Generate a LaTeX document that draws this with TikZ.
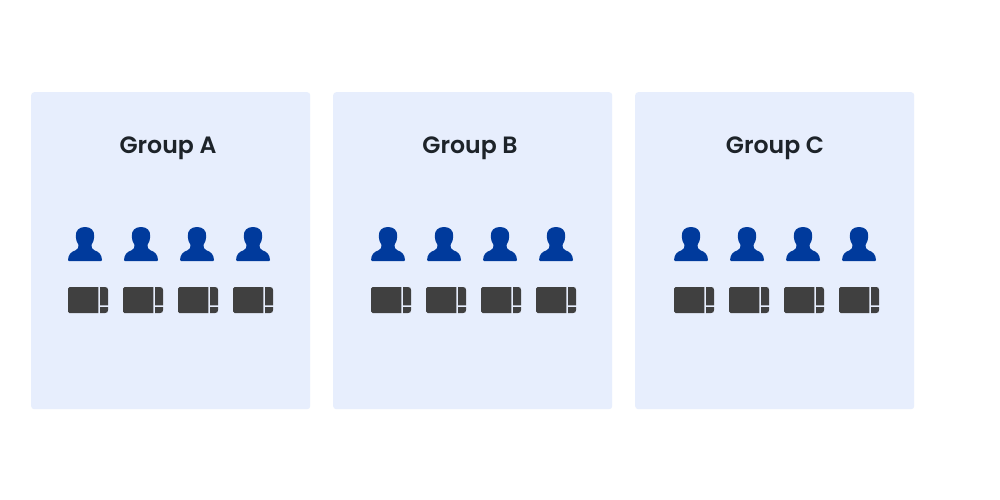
\documentclass[tikz,border=0pt]{standalone}
\usepackage{fontspec}
\setmainfont{Poppins}
\newfontfamily\titlefont{Poppins SemiBold}
\definecolor{cardbg}{HTML}{E7EEFD}
\definecolor{ink}{HTML}{1D2329}
\definecolor{userblue}{HTML}{003A9C}
\definecolor{devgray}{HTML}{404040}
\tikzset{
  x=1pt,y=-1pt,
  card/.style={fill=cardbg,draw=none,rounded corners=3pt},
  title/.style={font=\titlefont\fontsize{23.6}{26}\selectfont,text=ink,anchor=base,inner sep=0pt},
  pics/person/.style={code={
    \fill[userblue] (0,0) .. controls (-6,0) and (-9.4,3.5) .. (-9.2,9)
      .. controls (-9,13) and (-8,16) .. (-6.5,18)
      .. controls (-6.3,20.5) and (-7,22.3) .. (-9.5,23.3)
      .. controls (-14,25) and (-16.5,27) .. (-17,33)
      .. controls (-17,33.7) and (-16.8,34) .. (-16,34) -- (16,34)
      .. controls (16.8,34) and (17,33.7) .. (17,33)
      .. controls (16.5,27) and (14,25) .. (9.5,23.3)
      .. controls (7,22.3) and (6.3,20.5) .. (6.5,18)
      .. controls (8,16) and (9,13) .. (9.2,9)
      .. controls (9.4,3.5) and (6,0) .. (0,0) -- cycle;
  }},
  pics/device/.style={code={
    \fill[devgray] (1.5,0) -- (30.3,0) -- (30.3,26) -- (1.5,26)
      .. controls (0.5,26) and (0,25.5) .. (0,24.5) -- (0,1.5)
      .. controls (0,0.5) and (0.5,0) .. (1.5,0) -- cycle;
    \fill[devgray] (32,0) -- (37,0) .. controls (39,0) and (40,1) .. (40,3) -- (40,18.3) -- (32,18.3) -- cycle;
    \fill[devgray] (32,20) -- (40,20) -- (40,23) .. controls (40,25) and (39,26) .. (37,26) -- (32,26) -- cycle;
  }}
}
\begin{document}
\begin{tikzpicture}
\useasboundingbox (0,0) rectangle (1000,500);
\fill[white] (0,0) rectangle (1000,500);
\foreach \n/\cx/\off/\t/\tx in {a/31/0/A/168, b/333/303/B/470, c/635/606/C/775}{
  \node[card,minimum width=279pt,minimum height=317pt,inner sep=0pt,anchor=north west] (card\n) at (\cx,92) {};
  \node[title] (title\n) at (\tx,153) {Group \t};
  \foreach \i in {0,1,2,3}{
    \pic at ({85+\off+56*\i},227) {person};
    \pic at ({68+\off+55*\i},287) {device};
  }
}
\end{tikzpicture}
\end{document}
